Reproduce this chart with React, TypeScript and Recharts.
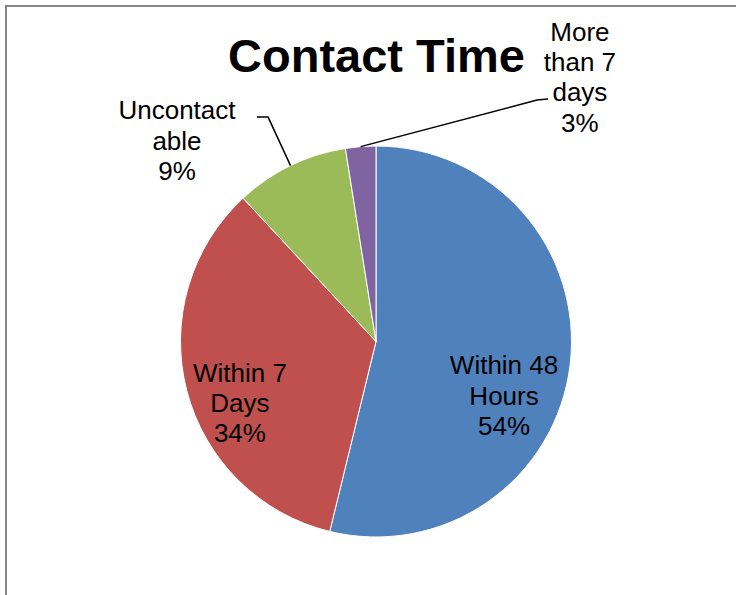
import React from "react";
import { PieChart, Pie, Cell } from "recharts";

const categories = ["Within 48 Hours", "Within 7 Days", "Uncontactable", "More than 7 days"];
const values = [53.8, 34.3, 9.4, 2.5];
const labelLines = [
  ["Within 48", "Hours"],
  ["Within 7", "Days"],
  ["Uncontact", "able"],
  ["More", "than 7", "days"],
];
const colors = ["#4F81BD", "#C0504D", "#9BBB59", "#8064A2"];
const title = "Contact Time";

const data = categories.map((name, i) => ({ name, value: values[i] }));
const total = values.reduce((a, b) => a + b, 0);

// label placement, in units of the outer radius from the pie centre
const placement = [
  { x: 0.655, y: 0.276 },
  { x: -0.696, y: 0.315 },
  { x: -1.018, y: -1.028, elbow: { x: -0.552, y: -1.148 }, end: { x: -0.609, y: -1.148 } },
  { x: 1.043, y: -1.353, elbow: { x: 0.824, y: -1.235 }, end: { x: 0.88, y: -1.24 } },
];

const FONT = "'Liberation Sans', Arial, sans-serif";
const FS = 26;
const LH = 30.3;

const renderLabel = (props: any) => {
  const { cx, cy, midAngle, outerRadius, index } = props;
  const p = placement[index];
  const R = outerRadius;
  const lines = [...labelLines[index], `${Math.round((values[index] / total) * 100)}%`];
  const bx = cx + p.x * R;
  const by = cy + p.y * R;
  const n = lines.length;
  const rad = (-midAngle * Math.PI) / 180;
  const sx = cx + R * Math.cos(rad);
  const sy = cy + R * Math.sin(rad);
  return (
    <g key={`lbl-${index}`}>
      {p.elbow && (
        <polyline
          points={`${sx},${sy} ${cx + p.elbow.x * R},${cy + p.elbow.y * R} ${cx + p.end.x * R},${cy + p.end.y * R}`}
          fill="none"
          stroke="#000"
          strokeWidth={1.5}
        />
      )}
      <text textAnchor="middle" fontFamily={FONT} fontSize={FS} fill="#000">
        {lines.map((t, i) => (
          <tspan key={i} x={bx} y={by + (i - (n - 1) / 2) * LH + FS * 0.35}>
            {t}
          </tspan>
        ))}
      </text>
    </g>
  );
};

export default function App() {
  return (
    <div style={{ position: "fixed", left: 0, top: 0, width: 736, height: 595, overflow: "hidden", background: "#fff" }}>
      <div
        style={{
          position: "absolute",
          left: 5,
          top: 5,
          width: 800,
          height: 700,
          border: "2px solid #868686",
          boxSizing: "border-box",
        }}
      />
      <div style={{ position: "absolute", left: 0, top: 0 }}>
        <PieChart width={736} height={595} margin={{ top: 0, right: 0, bottom: 0, left: 0 }}>
          <text
            x={376.5}
            y={72}
            textAnchor="middle"
            fontFamily={FONT}
            fontWeight="bold"
            fontSize={47}
            fill="#000"
          >
            {title}
          </text>
          <Pie
            data={data}
            dataKey="value"
            nameKey="name"
            cx={376}
            cy={341.5}
            outerRadius={195.5}
            startAngle={90}
            endAngle={-270}
            stroke="#fff"
            strokeWidth={1}
            label={renderLabel}
            labelLine={false}
            isAnimationActive={false}
          >
            {data.map((d, i) => (
              <Cell key={d.name} fill={colors[i]} />
            ))}
          </Pie>
        </PieChart>
      </div>
    </div>
  );
}
